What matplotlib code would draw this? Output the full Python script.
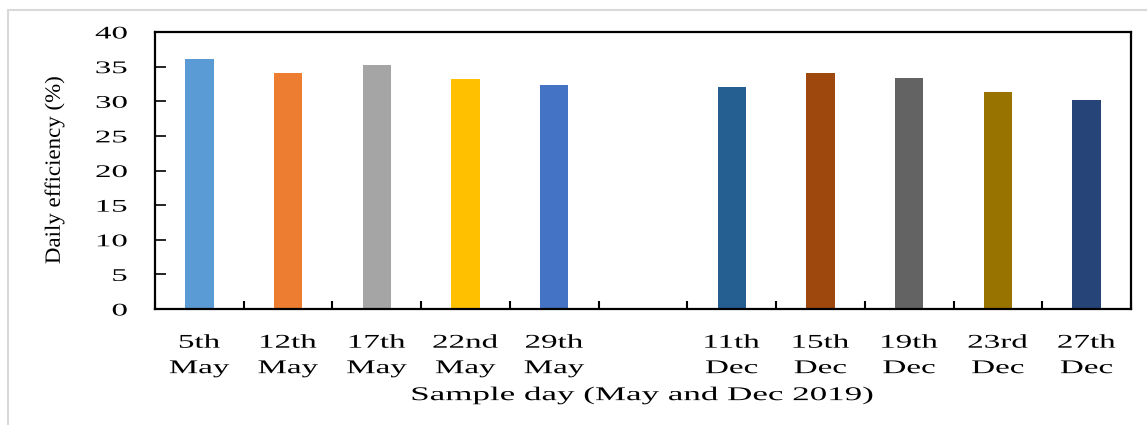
import numpy as np
import matplotlib
matplotlib.use("Agg")
import matplotlib.pyplot as plt
from matplotlib.patches import Rectangle
from matplotlib.patheffects import AbstractPathEffect
from matplotlib.transforms import Affine2D

days = ['5th\nMay', '12th\nMay', '17th\nMay', '22nd\nMay', '29th\nMay', '',
        '11th\nDec', '15th\nDec', '19th\nDec', '23rd\nDec', '27th\nDec']
efficiency = [36.1, 34.1, 35.2, 33.2, 32.3, np.nan,
              32.1, 34.1, 33.4, 31.3, 30.2]
bar_colors = ['#5B9BD5', '#ED7D31', '#A5A5A5', '#FFC000', '#4472C4', 'none',
              '#255E91', '#9E480E', '#636363', '#997300', '#264478']
yticks = [0, 5, 10, 15, 20, 25, 30, 35, 40]


class Widen(AbstractPathEffect):
    # stretch glyphs along the reading direction, keeping an anchor fixed
    def __init__(self, sx, sy=1.0, anchor='center'):
        super().__init__()
        self.sx = sx
        self.sy = sy
        self.anchor = anchor

    def draw_path(self, renderer, gc, tpath, affine, rgbFace=None):
        ext = tpath.get_extents()
        cx = ext.x1 if self.anchor == 'right' else (ext.x0 + ext.x1) / 2
        t = Affine2D().translate(-cx, 0).scale(self.sx, self.sy).translate(cx, 0)
        renderer.draw_path(gc, tpath, t + affine, rgbFace)


plt.rcParams['font.family'] = ['Liberation Serif', 'DejaVu Serif']

fig = plt.figure(figsize=(11.47, 4.25), dpi=100)
ax = fig.add_axes([155 / 1147, 116 / 425, 976 / 1147, 277 / 425])

# light outer frame
fig.patches.append(Rectangle((8 / 1147, -0.1), 1.2, 1 - 10 / 425 + 0.1,
                             transform=fig.transFigure, fill=False,
                             ec='#d9d9d9', lw=1.5))

x = np.arange(len(days))
vals = np.array(efficiency, dtype=float)
ok = ~np.isnan(vals)
ax.bar(x[ok], vals[ok], width=0.32,
       color=[c for c, m in zip(bar_colors, ok) if m], zorder=2)

ax.set_xlim(-0.5, len(days) - 0.5)
ax.set_ylim(0, 40)
ax.set_yticks(yticks)

ax.set_xticks(x)
ax.set_xticklabels(days, fontsize=14, linespacing=1.65)
ax.set_xticks(np.arange(-0.5, len(days)), minor=True)
ax.tick_params(axis='x', which='major', length=0, pad=18.5)
ax.tick_params(axis='x', which='minor', direction='in', length=6, width=1.5)
ax.tick_params(axis='y', direction='in', length=8, width=1.2,
               labelsize=12.8, pad=20)

for lab in ax.get_xticklabels():
    lab.set_path_effects([Widen(1.7)])
for lab in ax.get_yticklabels():
    lab.set_path_effects([Widen(1.85, anchor='right')])

for sp in ax.spines.values():
    sp.set_linewidth(1.6)
    sp.set_color('black')

xl = ax.set_xlabel('Sample day (May and Dec 2019)', fontsize=14, labelpad=7)
xl.set_path_effects([Widen(1.8)])
yl = ax.set_ylabel('Daily efficiency (%)', fontsize=16.5, labelpad=32)
yl.set_path_effects([Widen(1.0, sy=0.95)])

fig.savefig('out.png', dpi=100)
